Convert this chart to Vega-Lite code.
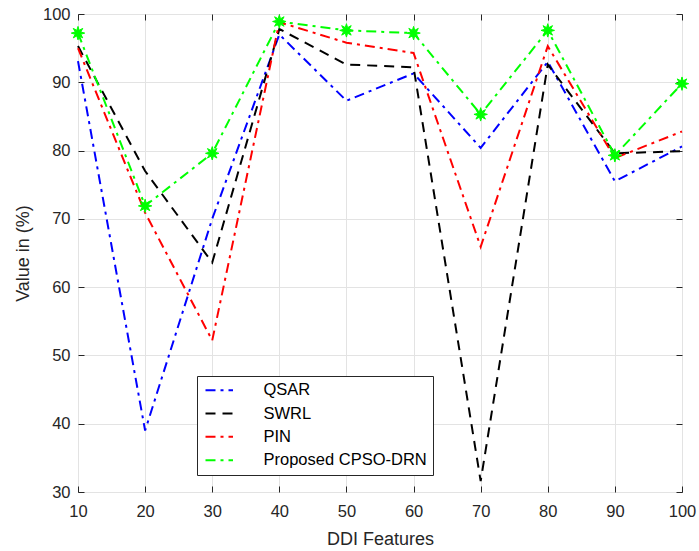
{
  "$schema": "https://vega.github.io/schema/vega-lite/v6.json",
  "width": 604,
  "height": 478,
  "autosize": {"type": "none"},
  "padding": {"left": 78, "top": 14, "right": 17, "bottom": 59},
  "background": "white",
  "config": {
    "font": "Liberation Sans",
    "view": {"stroke": "#262626", "strokeWidth": 1},
    "axis": {
      "labelFont": "Liberation Sans",
      "titleFont": "Liberation Sans",
      "labelColor": "#262626",
      "titleColor": "#262626",
      "labelFontSize": 16.5,
      "titleFontSize": 18,
      "titleFontWeight": "normal",
      "domainColor": "#262626",
      "tickColor": "#262626",
      "gridColor": "#e3e3e3",
      "gridWidth": 1,
      "labelFlush": false,
      "labelOverlap": false
    },
    "legend": {
      "labelFont": "Liberation Sans",
      "labelFontSize": 16.5,
      "labelColor": "#000000",
      "labelLimit": 300
    }
  },
  "data": {
    "values": [
      {"x": 10, "series": "QSAR", "value": 93.1},
      {"x": 20, "series": "QSAR", "value": 39.0},
      {"x": 30, "series": "QSAR", "value": 70.0},
      {"x": 40, "series": "QSAR", "value": 97.0},
      {"x": 50, "series": "QSAR", "value": 87.3},
      {"x": 60, "series": "QSAR", "value": 91.3},
      {"x": 70, "series": "QSAR", "value": 80.4},
      {"x": 80, "series": "QSAR", "value": 93.0},
      {"x": 90, "series": "QSAR", "value": 75.5},
      {"x": 100, "series": "QSAR", "value": 80.6},
      {"x": 10, "series": "SWRL", "value": 95.3},
      {"x": 20, "series": "SWRL", "value": 77.0},
      {"x": 30, "series": "SWRL", "value": 63.6},
      {"x": 40, "series": "SWRL", "value": 97.8},
      {"x": 50, "series": "SWRL", "value": 92.6},
      {"x": 60, "series": "SWRL", "value": 92.2},
      {"x": 70, "series": "SWRL", "value": 31.6},
      {"x": 80, "series": "SWRL", "value": 92.6},
      {"x": 90, "series": "SWRL", "value": 79.6},
      {"x": 100, "series": "SWRL", "value": 79.9},
      {"x": 10, "series": "PIN", "value": 95.0},
      {"x": 20, "series": "PIN", "value": 70.9},
      {"x": 30, "series": "PIN", "value": 52.2},
      {"x": 40, "series": "PIN", "value": 98.8},
      {"x": 50, "series": "PIN", "value": 95.8},
      {"x": 60, "series": "PIN", "value": 94.3},
      {"x": 70, "series": "PIN", "value": 65.9},
      {"x": 80, "series": "PIN", "value": 95.3},
      {"x": 90, "series": "PIN", "value": 78.9},
      {"x": 100, "series": "PIN", "value": 82.8},
      {"x": 10, "series": "Proposed CPSO-DRN", "value": 97.2},
      {"x": 20, "series": "Proposed CPSO-DRN", "value": 71.9},
      {"x": 30, "series": "Proposed CPSO-DRN", "value": 79.6},
      {"x": 40, "series": "Proposed CPSO-DRN", "value": 98.9},
      {"x": 50, "series": "Proposed CPSO-DRN", "value": 97.6},
      {"x": 60, "series": "Proposed CPSO-DRN", "value": 97.2},
      {"x": 70, "series": "Proposed CPSO-DRN", "value": 85.3},
      {"x": 80, "series": "Proposed CPSO-DRN", "value": 97.6},
      {"x": 90, "series": "Proposed CPSO-DRN", "value": 79.3},
      {"x": 100, "series": "Proposed CPSO-DRN", "value": 89.8}
    ]
  },
  "resolve": {"axis": {"x": "independent", "y": "independent"}},
  "layer": [
    {
      "mark": {"type": "line", "strokeWidth": 2, "clip": false},
      "encoding": {
        "x": {
          "field": "x", "type": "quantitative",
          "scale": {"domain": [10, 100], "nice": false, "zero": false},
          "axis": {"title": "DDI Features", "values": [10,20,30,40,50,60,70,80,90,100], "tickSize": -6, "labelPadding": 17, "titlePadding": 11, "domain": false, "grid": true}
        },
        "y": {
          "field": "value", "type": "quantitative",
          "scale": {"domain": [30, 100], "nice": false, "zero": false},
          "axis": {"title": "Value in (%)", "values": [30,40,50,60,70,80,90,100], "tickSize": -6, "labelPadding": 14, "titlePadding": 10, "domain": false, "grid": true}
        },
        "color": {
          "field": "series", "type": "nominal",
          "scale": {"domain": ["QSAR", "SWRL", "PIN", "Proposed CPSO-DRN"], "range": ["#0000ff", "#000000", "#ff0000", "#00ff00"]},
          "legend": {
            "title": null, "orient": "none", "legendX": 119, "legendY": 362,
            "symbolType": "M-2.5,0H2.5", "symbolSize": 121, "symbolStrokeWidth": 2,
            "symbolOffset": 8, "labelOffset": 36,
            "strokeColor": "#262626", "fillColor": "white", "padding": 6,
            "rowPadding": 6.3
          }
        },
        "strokeDash": {
          "field": "series", "type": "nominal",
          "scale": {"domain": ["QSAR", "SWRL", "PIN", "Proposed CPSO-DRN"], "range": [[10,5,3,5],[10,7],[10,5,3,5],[10,5,3,5]]},
          "legend": {
            "title": null, "orient": "none", "legendX": 119, "legendY": 362,
            "symbolType": "M-2.5,0H2.5", "symbolSize": 121, "symbolStrokeWidth": 2,
            "symbolOffset": 8, "labelOffset": 36,
            "strokeColor": "#262626", "fillColor": "white", "padding": 6,
            "rowPadding": 6.3
          }
        }
      }
    },
    {
      "transform": [{"filter": "datum.series === 'Proposed CPSO-DRN'"}],
      "mark": {
        "type": "point", "filled": true, "opacity": 1, "clip": false,
        "color": "#00ff00", "size": 180, "stroke": "#00ff00", "strokeWidth": 1,
        "shape": "M1,0L0.416,0.172L0.707,0.707L0.172,0.416L0,1L-0.172,0.416L-0.707,0.707L-0.416,0.172L-1,0L-0.416,-0.172L-0.707,-0.707L-0.172,-0.416L0,-1L0.172,-0.416L0.707,-0.707L0.416,-0.172Z"
      },
      "encoding": {
        "x": {
          "field": "x", "type": "quantitative",
          "axis": {"orient": "top", "title": null, "labels": false, "values": [10,20,30,40,50,60,70,80,90,100], "tickSize": -6, "domain": false, "grid": false}
        },
        "y": {
          "field": "value", "type": "quantitative",
          "axis": {"orient": "right", "title": null, "labels": false, "values": [30,40,50,60,70,80,90,100], "tickSize": -6, "domain": false, "grid": false}
        }
      }
    }
  ]
}
